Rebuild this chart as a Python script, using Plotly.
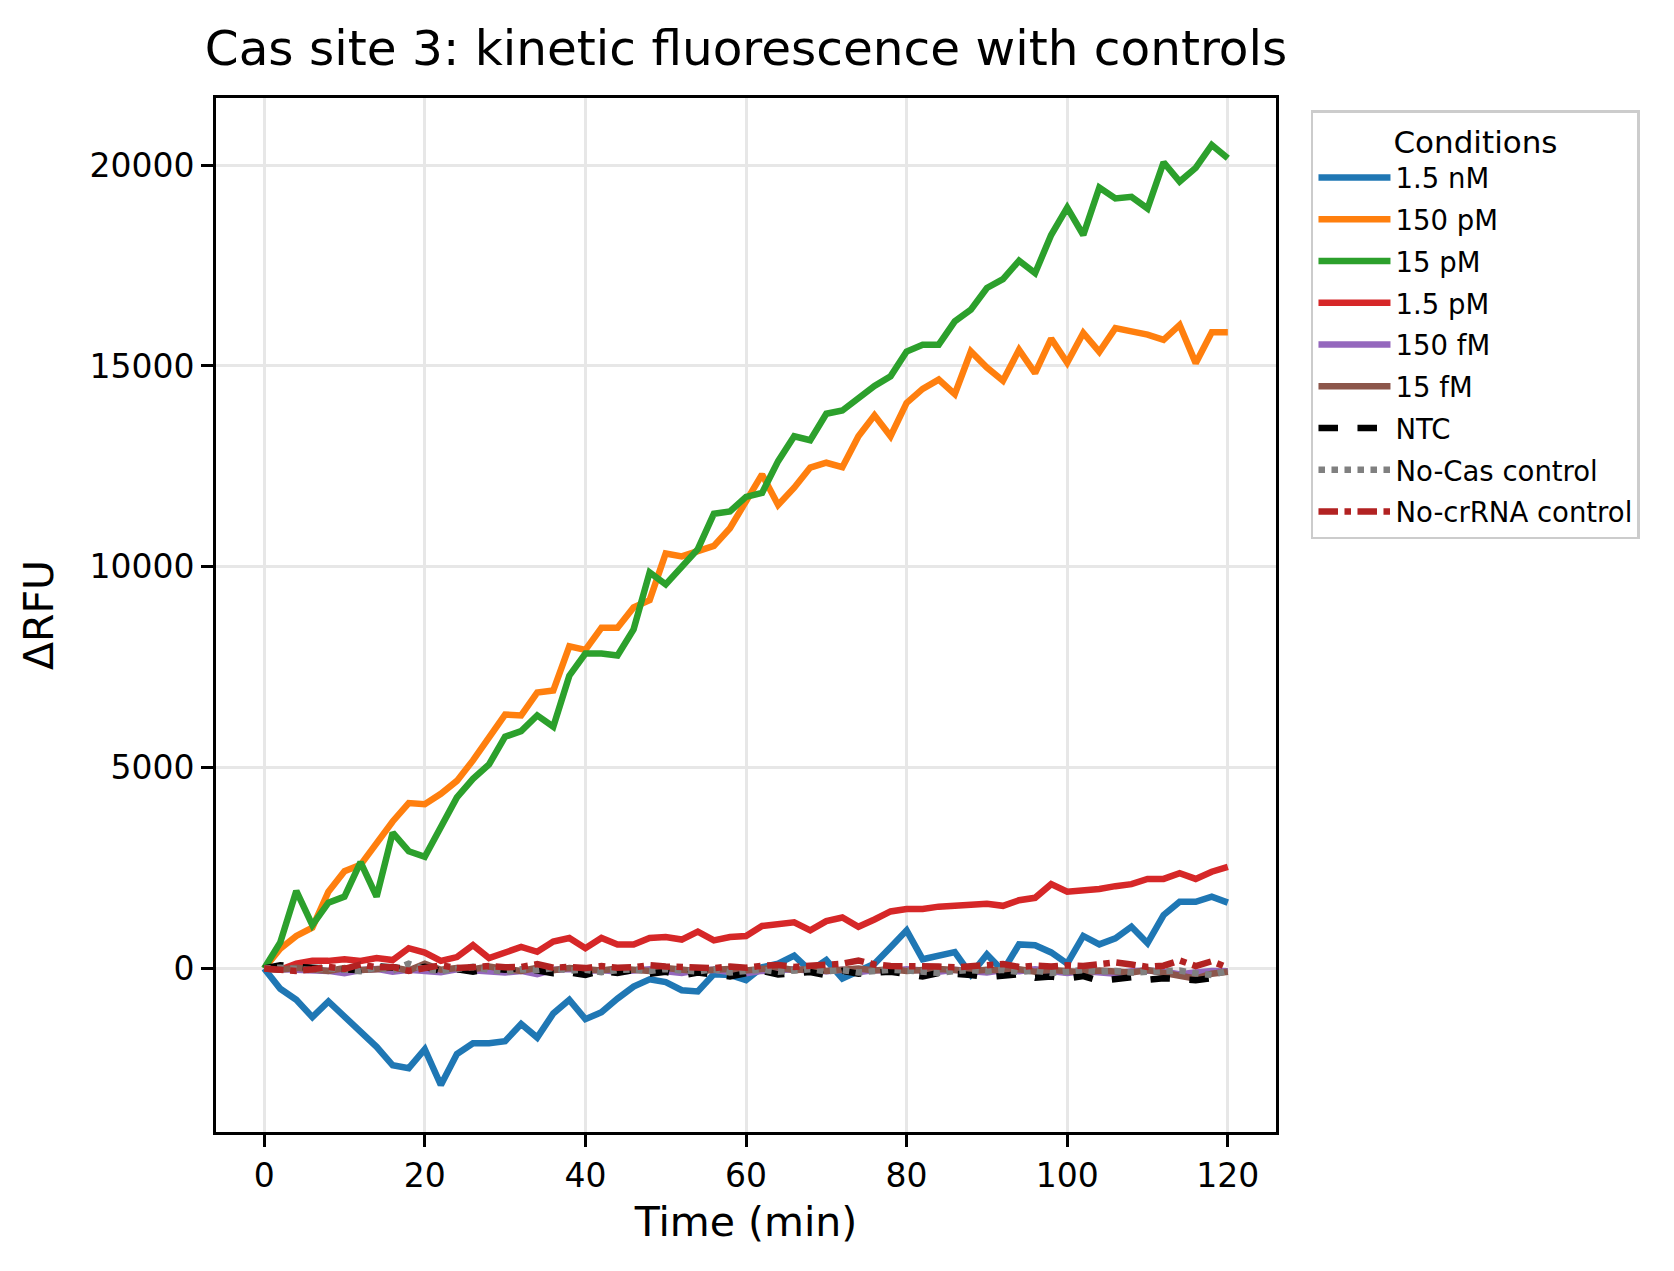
import plotly.graph_objects as go

time_min = list(range(0, 121, 2))

nM_1_5 = [0, -505, -780, -1210, -820, -1190, -1580, -1950, -2410, -2480, -2010, -2900, -2130, -1860, -1860, -1810,
          -1380, -1720, -1120, -780, -1260, -1090, -750, -450, -270, -340, -540, -570, -140, -160, -290, 30,
          120, 320, -60, 210, -250, -60, 120, 530, 950, 230, 320, 410, -150, 350, -60, 600, 580, 400,
          120, 810, 600, 750, 1040, 630, 1330, 1660, 1660, 1790, 1640]
pM_150 = [0, 490, 810, 1020, 1910, 2420, 2580, 3150, 3660, 4120, 4090, 4350, 4670, 5180, 5740, 6320,
          6300, 6870, 6920, 8020, 7930, 8480, 8480, 8990, 9170, 10330, 10260, 10410, 10520, 10960, 11640, 12300,
          11540, 11970, 12470, 12590, 12480, 13250, 13770, 13250, 14080, 14430, 14660, 14300, 15360, 14960, 14630,
          15400, 14820, 15680, 15080, 15820, 15350, 15940, 15860, 15780, 15650, 16020, 15070, 15840, 15840]
pM_15 = [0, 650, 1930, 1080, 1640, 1790, 2650, 1790, 3380, 2920, 2780, 3540, 4260, 4720, 5080, 5770,
         5910, 6300, 6020, 7290, 7840, 7840, 7790, 8440, 9860, 9560, 10000, 10440, 11320, 11380, 11740, 11840,
         12630, 13250, 13150, 13810, 13890, 14190, 14500, 14740, 15360, 15530, 15530, 16110, 16400, 16940, 17160,
         17620, 17310, 18260, 18940, 18260, 19440, 19170, 19210, 18920, 20070, 19590, 19930, 20500, 20170]
pM_1_5 = [0, -30, 120, 190, 190, 230, 190, 260, 210, 505, 395, 190, 285, 580, 260, 415,
          535, 415, 670, 760, 505, 760, 600, 600, 760, 785, 720, 920, 700, 785, 810, 1060,
          1110, 1150, 950, 1180, 1270, 1040, 1220, 1420, 1480, 1480, 1540, 1570, 1590, 1610, 1560,
          1700, 1760, 2100, 1910, 1930, 1980, 2050, 2100, 2230, 2230, 2370, 2230, 2410, 2530]
fM_150 = [0, -20, -40, -30, -60, -120, -40, -10, -80, -30, -50, -90, -20, -40, -70, -100,
          -60, -140, -30, -10, -60, -40, -80, -50, -20, -70, -110, -40, -30, -90, -120, -60,
          -40, -20, -50, -70, -30, -90, -40, -60, -20, -50, -80, -30, -60, -100, -40,
          -70, -20, -50, -110, -60, -90, -130, -70, -50, -80, -140, -100, -60, -70]
fM_15 = [0, -30, 20, -10, -60, 10, -40, -20, 30, -50, 120, -30, 10, -20, 50, -10,
         -60, 20, -40, 10, -30, -50, 0, -20, -60, 10, -40, -70, -30, -10, -50, -20,
         30, -40, -10, -60, -30, 0, -50, -20, -60, -30, -10, -40, -70, -30, -50,
         -20, -80, -40, -60, -90, -50, -70, -100, -40, -120, -200, -250, -130, -80]
ntc = [0, 80, 40, 30, -20, 10, -40, 60, 20, -10, 40, -60, -20, -80, 0, -30,
       20, -40, -120, -100, -160, -60, -110, -40, -130, -80, -170, -100, -140, -200, -120, -60,
       -150, -110, -90, -170, -60, -130, -100, -80, -140, -200, -110, -130, -160, -220, -180,
       -140, -230, -200, -250, -190, -310, -260, -220, -280, -240, -260, -290, -240, -200]
no_cas = [0, 20, -10, -40, 10, -30, -70, 30, -50, 120, -20, -60, -10, 40, -30, -80,
          -20, -40, 10, -50, -30, -90, -40, -20, -60, -10, -50, -70, -20, -100, -60, -30,
          -80, -50, -20, -70, -40, -100, -60, -30, -50, -80, -110, -60, -40, -70, -30,
          -90, -50, -110, -70, -40, -80, -60, -100, -90, -70, -50, -120, -160, -60]
no_crrna = [0, -40, -60, -20, 40, -10, 100, 30, 40, -60, 20, 80, 10, 50, 60, 30,
            40, 110, 20, 40, 10, 60, 20, 30, 80, 50, 40, 60, 10, 50, 20, 70,
            90, 40, 60, 80, 120, 200, 100, 60, 70, 40, 50, 30, 60, 90, 110,
            40, 70, 50, 80, 60, 90, 150, 100, 40, 70, 200, 60, 180, 20]

series_names = ["1.5 nM", "150 pM", "15 pM", "1.5 pM", "150 fM", "15 fM",
                "NTC", "No-Cas control", "No-crRNA control"]
series_values = [nM_1_5, pM_150, pM_15, pM_1_5, fM_150, fM_15, ntc, no_cas, no_crrna]
series_colors = ["#1f77b4", "#ff7f0e", "#2ca02c", "#d62728", "#9467bd", "#8c564b",
                 "#000000", "#808080", "#b22222"]
series_dash = ["solid"] * 6 + ["dash", "dot", "dashdot"]

fig = go.Figure()
for i, (name, vals, col, dash) in enumerate(zip(series_names, series_values, series_colors, series_dash)):
    fig.add_trace(go.Scatter(
        x=time_min, y=vals, mode="lines", name=name,
        legendgroup=f"g{i}",
        line=dict(color=col, width=6.5, dash=dash),
    ))

FONT = "DejaVu Sans"
fig.update_layout(
    width=1674, height=1271,
    margin=dict(l=216, r=398, t=98, b=139),
    paper_bgcolor="white", plot_bgcolor="white",
    font=dict(family=FONT, color="black"),
    title=dict(text="Cas site 3: kinetic fluorescence with controls",
               x=0.5, xanchor="center", xref="paper",
               y=1 - 48 / 1271, yref="container", yanchor="middle",
               font=dict(size=48.5, family=FONT, color="black")),
    showlegend=True,
    legend=dict(
        x=1.033, xanchor="left", y=0.988, yanchor="top",
        bgcolor="white", bordercolor="#cccccc", borderwidth=2.5,
        font=dict(size=27.5, family=FONT, color="black"),
        title=dict(text="Conditions", side="top center", font=dict(size=31, family=FONT)),
        traceorder="grouped", tracegroupgap=3, itemwidth=72,
    ),
)
fig.update_xaxes(
    range=[-6, 126], tickvals=[0, 20, 40, 60, 80, 100, 120],
    showgrid=True, gridcolor="#e7e7e7", gridwidth=2.8, zeroline=False,
    showline=True, mirror=True, linecolor="black", linewidth=2.8,
    ticks="outside", ticklen=12, tickwidth=2.8, tickcolor="black",
    tickfont=dict(size=33, family=FONT),
    title=dict(text="Time (min)", font=dict(size=41, family=FONT), standoff=14),
)
fig.update_yaxes(
    range=[-4070, 21670], tickvals=[0, 5000, 10000, 15000, 20000], tickformat="d",
    showgrid=True, gridcolor="#e7e7e7", gridwidth=2.8, zeroline=False,
    showline=True, mirror=True, linecolor="black", linewidth=2.8,
    ticks="outside", ticklen=12, tickwidth=2.8, tickcolor="black",
    tickfont=dict(size=33, family=FONT),
    title=dict(text="ΔRFU", font=dict(size=41, family=FONT), standoff=24),
)

fig.write_html("out.html")
